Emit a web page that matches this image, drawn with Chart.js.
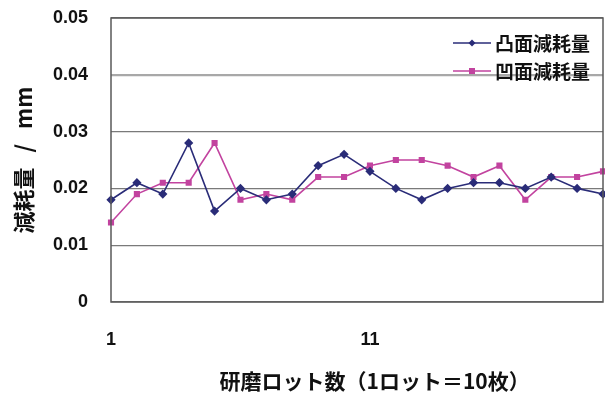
<!DOCTYPE html>
<html>
<head>
<meta charset="utf-8">
<script src="https://cdn.jsdelivr.net/npm/chart.js@4"></script>
<style>
  html, body { margin: 0; padding: 0; background: #ffffff; }
  canvas { display: block; }
</style>
</head>
<body>
<canvas id="wearChart" width="605" height="396"></canvas>
<script>
// Lot numbers (1 lot = 10 pieces)
const lots = ['1','2','3','4','5','6','7','8','9','10','11','12','13','14','15','16','17','18','19','20'];
// Wear on the convex face, mm
const convexWear = [0.018, 0.021, 0.019, 0.028, 0.016, 0.020, 0.018, 0.019, 0.024, 0.026,
                    0.023, 0.020, 0.018, 0.020, 0.021, 0.021, 0.020, 0.022, 0.020, 0.019];
// Wear on the concave face, mm
const concaveWear = [0.014, 0.019, 0.021, 0.021, 0.028, 0.018, 0.019, 0.018, 0.022, 0.022,
                     0.024, 0.025, 0.025, 0.024, 0.022, 0.024, 0.018, 0.022, 0.022, 0.023];
const yTickLabels = ['0', '0.01', '0.02', '0.03', '0.04', '0.05'];
const seriesNames = ['凸面減耗量', '凹面減耗量'];

const CJK = '"Noto Sans CJK JP", "Noto Sans", sans-serif';
const LATIN = '"Liberation Sans", Arial, sans-serif';

// Frame around the plot area
const framePlugin = {
  id: 'plotFrame',
  afterDatasetsDraw(chart) {
    const { ctx, chartArea: a } = chart;
    ctx.save();
    ctx.strokeStyle = '#5a5a5a';
    ctx.lineWidth = 1.5;
    ctx.strokeRect(a.left, a.top, a.right - a.left, a.bottom - a.top);
    ctx.restore();
  }
};

// Legend drawn inside the plot, top right
const insideLegend = {
  id: 'insideLegend',
  afterDraw(chart) {
    const { ctx } = chart;
    const x0 = 453, x1 = 491, tx = 495;
    const rows = [43, 71];
    ctx.save();
    chart.data.datasets.forEach((ds, i) => {
      const y = rows[i];
      ctx.strokeStyle = ds.borderColor;
      ctx.lineWidth = 1.5;
      ctx.beginPath();
      ctx.moveTo(x0, y);
      ctx.lineTo(x1, y);
      ctx.stroke();
      ctx.fillStyle = ds.pointBackgroundColor;
      const cx = (x0 + x1) / 2;
      if (ds.pointStyle === 'rectRot') {
        ctx.beginPath();
        ctx.moveTo(cx, y - 3.5); ctx.lineTo(cx + 3.5, y); ctx.lineTo(cx, y + 3.5); ctx.lineTo(cx - 3.5, y);
        ctx.closePath(); ctx.fill();
      } else {
        ctx.fillRect(cx - 3, y - 3, 6, 6);
      }
      ctx.fillStyle = '#111111';
      ctx.font = 'bold 19px ' + CJK;
      ctx.textBaseline = 'middle';
      ctx.textAlign = 'left';
      ctx.fillText(ds.label, tx, y + 1);
    });
    ctx.restore();
  }
};

new Chart(document.getElementById('wearChart'), {
  type: 'line',
  data: {
    labels: lots,
    datasets: [
      {
        label: seriesNames[0],
        data: convexWear,
        borderColor: '#2a2c78',
        backgroundColor: '#2a2c78',
        pointBackgroundColor: '#2a2c78',
        pointBorderColor: '#2a2c78',
        pointStyle: 'rectRot',
        pointRadius: 3.5,
        borderWidth: 1.6,
        tension: 0
      },
      {
        label: seriesNames[1],
        data: concaveWear,
        borderColor: '#c2439f',
        backgroundColor: '#c2439f',
        pointBackgroundColor: '#c2439f',
        pointBorderColor: '#c2439f',
        pointStyle: 'rect',
        pointRadius: 3.2,
        borderWidth: 1.6,
        tension: 0
      }
    ]
  },
  options: {
    responsive: false,
    animation: false,
    clip: false,
    layout: { autoPadding: false, padding: { top: 18, right: 2, left: 0, bottom: 0 } },
    plugins: {
      legend: { display: false },
      tooltip: { enabled: false }
    },
    scales: {
      x: {
        offset: false,
        grid: { display: false, drawTicks: false },
        border: { display: false },
        ticks: {
          autoSkip: false,
          maxRotation: 0,
          padding: 27,
          color: '#111111',
          font: { family: LATIN, size: 18, weight: 'bold' },
          callback: (v, i) => (i % 10 === 0 ? lots[i] : '')
        },
        title: {
          display: true,
          text: '\u3000   研磨ロット数（1ロット＝10枚）',
          color: '#111111',
          font: { family: CJK, size: 21, weight: 'bold' },
          padding: { top: 0, bottom: 2 }
        },
        afterFit(scale) {
          scale.height = 94;
          scale.paddingLeft = 0;
          scale.paddingRight = 0;
        }
      },
      y: {
        min: 0,
        max: 0.05,
        grid: {
          drawTicks: false,
          color: (c) => (c.tick && Math.abs(c.tick.value - 0.04) < 1e-9 ? '#a8a8a8' : '#7a7a7a'),
          lineWidth: (c) => (c.tick && Math.abs(c.tick.value - 0.04) < 1e-9 ? 2.2 : 1.2)
        },
        border: { display: false },
        ticks: {
          stepSize: 0.01,
          padding: 23,
          color: '#111111',
          font: { family: LATIN, size: 18, weight: 'bold' },
          callback: (v, i) => yTickLabels[i]
        },
        title: {
          display: true,
          text: '減耗量   /   mm',
          color: '#111111',
          font: { family: CJK, size: 22, weight: 'bold' },
          padding: { top: 10, bottom: 0 }
        },
        afterFit(scale) {
          scale.width = 111;
          scale.paddingTop = 0;
          scale.paddingBottom = 0;
        }
      }
    }
  },
  plugins: [framePlugin, insideLegend]
});
</script>
</body>
</html>
